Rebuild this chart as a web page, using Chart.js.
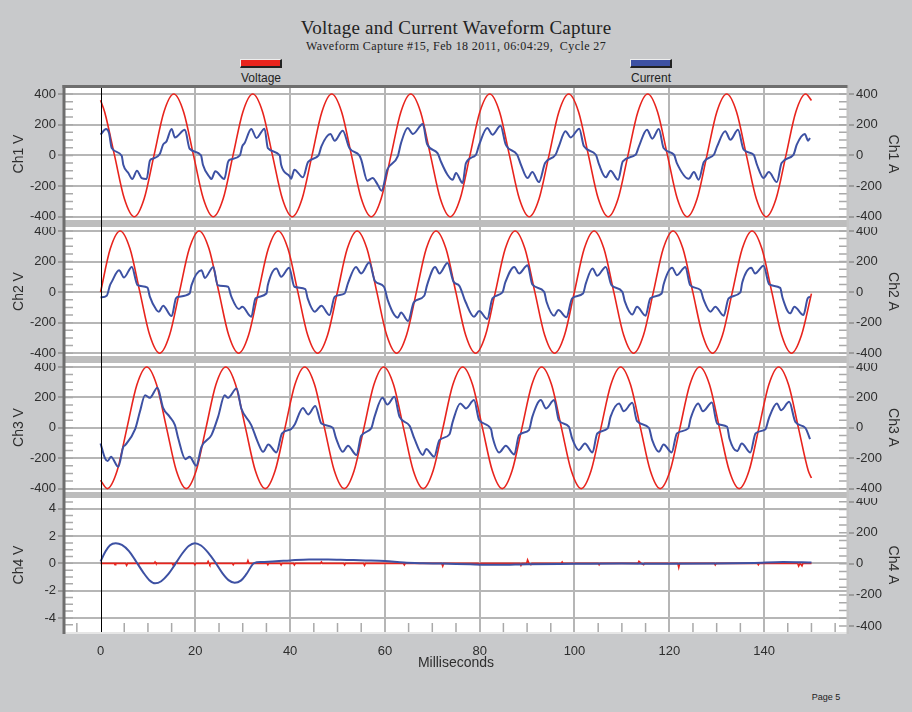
<!DOCTYPE html>
<html>
<head>
<meta charset="utf-8">
<script src="https://cdn.jsdelivr.net/npm/chart.js@4.4.1/dist/chart.umd.min.js"></script>
<style>
  html, body { margin: 0; padding: 0; }
  body { width: 912px; height: 712px; background: #c8c9cb; position: relative; overflow: hidden; font-family: 'Liberation Sans', Arial, sans-serif; }
  canvas { position: absolute; left: 0; }
  .title { position: absolute; left: 0; width: 912px; text-align: center; font-family: 'Liberation Serif', 'Times New Roman', serif; color: #222; white-space: pre; }
  .swatch { position: absolute; width: 39px; height: 6px; border-top: 1px solid #eee; border-left: 1px solid #eee; border-right: 2px solid #222; border-bottom: 2px solid #222; }
  .leg { position: absolute; width: 80px; text-align: center; font-size: 12px; line-height: 14px; color: #222; }
</style>
</head>
<body>
<div class="title" style="top:17px;font-size:19px;line-height:22px;letter-spacing:0.25px;">Voltage and Current Waveform Capture</div>
<div class="title" style="top:39px;font-size:12px;line-height:14px;letter-spacing:0.4px;">Waveform Capture #15, Feb 18 2011, 06:04:29,  Cycle 27</div>
<div class="swatch" style="left:240px;top:59px;background:#e8241d;"></div>
<div class="leg" style="left:221px;top:71px;">Voltage</div>
<div class="swatch" style="left:630px;top:59px;background:#3d51a3;"></div>
<div class="leg" style="left:611px;top:71px;">Current</div>
<div style="position:absolute;left:806px;top:692px;width:40px;text-align:center;font-size:9px;color:#222;">Page 5</div>

<canvas id="c1" width="912" height="142" style="top:85px"></canvas>
<canvas id="c2" width="912" height="136" style="top:227px"></canvas>
<canvas id="c3" width="912" height="135" style="top:363px"></canvas>
<canvas id="c4" width="912" height="182" style="top:498px"></canvas>

<script>
// axis ticks
const xTicks = [-5, 0, 5, 10, 15, 20, 25, 30, 35, 40, 45, 50, 55, 60, 65, 70, 75, 80, 85, 90, 95, 100, 105, 110, 115, 120, 125, 130, 135, 140, 145, 150, 155];
const xLabels = [0, 20, 40, 60, 80, 100, 120, 140];
const ampTicks = [-400, -350, -300, -250, -200, -150, -100, -50, 0, 50, 100, 150, 200, 250, 300, 350, 400];
const ampLabels = [-400, -200, 0, 200, 400];
const ch4VTicks = [-4.5, -4, -3.5, -3, -2.5, -2, -1.5, -1, -0.5, 0, 0.5, 1, 1.5, 2, 2.5, 3, 3.5, 4, 4.5];
const ch4VLabels = [-4, -2, 0, 2, 4];

// Ch1
const ch1VoltTime = [0, 0.87, 2.95, 5.03, 7.12, 9.20, 11.28, 13.37, 15.45, 17.53, 19.62, 21.70, 23.78, 25.87, 27.95, 30.03, 32.12, 34.20, 36.28, 38.37, 40.45, 42.53, 44.62, 46.70, 48.78, 50.87, 52.95, 55.03, 57.12, 59.20, 61.28, 63.37, 65.45, 67.53, 69.62, 71.70, 73.78, 75.87, 77.95, 80.03, 82.12, 84.20, 86.28, 88.37, 90.45, 92.53, 94.62, 96.70, 98.78, 100.87, 102.95, 105.03, 107.12, 109.20, 111.28, 113.37, 115.45, 117.53, 119.62, 121.70, 123.78, 125.87, 127.95, 130.03, 132.12, 134.20, 136.28, 138.37, 140.45, 142.53, 144.62, 146.70, 148.78, 150];
const ch1Volt = [359,
  283, 0, -283, -400, -283, 0, 283, 400,
  283, 0, -283, -400, -283, 0, 283, 400,
  283, 0, -283, -400, -283, 0, 283, 400,
  283, 0, -283, -400, -283, 0, 283, 400,
  283, 0, -283, -400, -283, 0, 283, 400,
  283, 0, -283, -400, -283, 0, 283, 400,
  283, 0, -283, -400, -283, 0, 283, 400,
  283, 0, -283, -400, -283, 0, 283, 400,
  283, 0, -283, -400, -283, 0, 283, 400,
  358];
const ch1AmpTime = [0, 1.16, 1.79, 2.35, 4.46, 4.8, 5.86, 6.7, 7.68, 8.67, 9.72, 10.4, 10.9, 12.5, 13.2, 13.9, 15.0, 15.7, 17.8, 18.8, 21.2, 21.6, 23.05, 23.4, 24.2, 26.1, 26.9, 27.3, 29.4, 29.9, 30.4, 31.8, 32.9, 34.6, 35.3, 37.8, 38.1, 39.9, 40.2, 40.9, 42.7, 43.8, 46.0, 46.6, 48.5, 49.4, 51.1, 52.5, 54.6, 55.0, 56.3, 57.4, 58.4, 59.3, 60.5, 62.7, 63.4, 64.8, 65.9, 68.0, 68.9, 71.1, 71.8, 73.2, 74.3, 75.0, 76.4, 77.1, 79.2, 79.9, 81.6, 82.7, 84.4, 85.5, 87.9, 88.7, 90.1, 91.1, 92.5, 93.8, 96.0, 96.7, 98.1, 99.2, 101.0, 102.0, 104.5, 105.2, 106.6, 107.6, 109.2, 110.2, 112.9, 113.6, 115.3, 116.4, 117.8, 118.8, 121.0, 121.6, 124.1, 125.2, 126.2, 127.3, 129.4, 130.1, 131.8, 132.9, 134.5, 135.7, 137.8, 138.5, 139.9, 141.0, 142.7, 143.7, 146.2, 146.9, 148.6, 149.3, 149.7];
const ch1Amp = [135, 172, 146, 48, -2, -61, -115, -154, -100, -148, -154, -35, -22, 9, 70, 91, 172, 117, 167, 43, 0, -61, -143, -154, -104, -154, -43, -28, 0, 59, 80, 172, 113, 174, 48, 0, -61, -137, -152, -93, -143, -43, 0, 59, 139, 96, 161, 48, 0, -28, -165, -148, -187, -230, -93, -7, 80, 178, 139, 204, 74, 15, -39, -126, -159, -115, -180, -50, 4, 70, 178, 135, 193, 70, 4, -61, -148, -109, -174, -50, 4, 59, 157, 117, 174, 59, 4, -61, -143, -100, -159, -39, 4, 59, 167, 109, 172, 48, 4, -50, -152, -109, -159, -43, 4, 59, 157, 102, 167, 37, 4, -61, -148, -109, -174, -50, 4, 70, 139, 96, 113];

// Ch2
const ch2VoltTime = [0, 2.05, 4.14, 6.22, 8.30, 10.39, 12.47, 14.55, 16.64, 18.72, 20.80, 22.89, 24.97, 27.05, 29.14, 31.22, 33.30, 35.39, 37.47, 39.55, 41.64, 43.72, 45.80, 47.89, 49.97, 52.05, 54.14, 56.22, 58.30, 60.39, 62.47, 64.55, 66.64, 68.72, 70.80, 72.89, 74.97, 77.05, 79.14, 81.22, 83.30, 85.39, 87.47, 89.55, 91.64, 93.72, 95.80, 97.89, 99.97, 102.05, 104.14, 106.22, 108.30, 110.39, 112.47, 114.55, 116.64, 118.72, 120.80, 122.89, 124.97, 127.05, 129.14, 131.22, 133.30, 135.39, 137.47, 139.55, 141.64, 143.72, 145.80, 147.89, 150];
const ch2Volt = [
  0, 283, 400, 283, 0, -283, -400, -283,
  0, 283, 400, 283, 0, -283, -400, -283,
  0, 283, 400, 283, 0, -283, -400, -283,
  0, 283, 400, 283, 0, -283, -400, -283,
  0, 283, 400, 283, 0, -283, -400, -283,
  0, 283, 400, 283, 0, -283, -400, -283,
  0, 283, 400, 283, 0, -283, -400, -283,
  0, 283, 400, 283, 0, -283, -400, -283,
  0, 283, 400, 283, 0, -283, -400, -283,
  -10];
const ch2AmpTime = [0, 1.3, 2.0, 2.35, 3.9, 4.95, 6.6, 7.8, 9.9, 10.4, 11.8, 12.3, 13.2, 15.0, 15.9, 16.4, 18.8, 19.2, 21.3, 22.0, 23.8, 24.7, 26.9, 27.6, 29.2, 29.9, 31.8, 32.7, 35.0, 35.3, 37.1, 38.1, 39.8, 40.9, 43.2, 43.7, 45.2, 46.6, 48.3, 49.4, 51.5, 52.2, 53.9, 55.0, 56.7, 57.9, 59.8, 60.6, 62.0, 62.7, 63.4, 64.9, 66.1, 68.3, 68.9, 70.6, 71.5, 73.2, 74.5, 75.7, 77.0, 78.8, 79.9, 81.6, 82.7, 84.8, 85.4, 87.3, 88.3, 90.1, 91.1, 93.6, 94.1, 95.7, 96.6, 98.3, 99.5, 101.8, 102.4, 103.8, 104.8, 106.6, 107.8, 110.1, 110.6, 112.2, 113.2, 115.0, 116.0, 118.4, 118.8, 120.6, 121.6, 123.4, 124.4, 126.6, 127.2, 128.7, 129.7, 131.5, 132.5, 135.0, 135.4, 137.3, 138.1, 139.9, 141.1, 143.4, 143.9, 145.5, 146.4, 148.3, 149.2, 149.7];
const ch2Amp = [-35, -24, 46, 67, 143, 96, 165, 46, 30, -30, -117, -128, -89, -157, -41, -30, -9, 46, 143, 93, 165, 46, 35, -30, -111, -96, -161, -41, -9, 46, 154, 100, 159, 35, 20, -41, -128, -89, -150, -30, -9, 57, 165, 122, 193, 72, 35, -52, -150, -167, -133, -189, -67, -24, 46, 165, 122, 191, 67, 41, -63, -161, -124, -176, -41, -2, 63, 165, 122, 176, 50, 2, -63, -154, -117, -165, -41, -9, 57, 154, 107, 165, 46, 2, -59, -146, -96, -154, -41, -9, 50, 159, 111, 165, 46, 13, -46, -128, -96, -154, -41, -2, 63, 159, 122, 172, 50, 28, -37, -139, -96, -150, -41, -30];

// Ch3
const ch3VoltTime = [0, 1.42, 3.50, 5.58, 7.67, 9.75, 11.83, 13.92, 16.00, 18.08, 20.17, 22.25, 24.33, 26.42, 28.50, 30.58, 32.67, 34.75, 36.83, 38.92, 41.00, 43.08, 45.17, 47.25, 49.33, 51.42, 53.50, 55.58, 57.67, 59.75, 61.83, 63.92, 66.00, 68.08, 70.17, 72.25, 74.33, 76.42, 78.50, 80.58, 82.67, 84.75, 86.83, 88.92, 91.00, 93.08, 95.17, 97.25, 99.33, 101.42, 103.50, 105.58, 107.67, 109.75, 111.83, 113.92, 116.00, 118.08, 120.17, 122.25, 124.33, 126.42, 128.50, 130.58, 132.67, 134.75, 136.83, 138.92, 141.00, 143.08, 145.17, 147.25, 149.33, 150];
const ch3Volt = [-344,
  -400, -283, 0, 283, 400, 283, 0, -283,
  -400, -283, 0, 283, 400, 283, 0, -283,
  -400, -283, 0, 283, 400, 283, 0, -283,
  -400, -283, 0, 283, 400, 283, 0, -283,
  -400, -283, 0, 283, 400, 283, 0, -283,
  -400, -283, 0, 283, 400, 283, 0, -283,
  -400, -283, 0, 283, 400, 283, 0, -283,
  -400, -283, 0, 283, 400, 283, 0, -283,
  -400, -283, 0, 283, 400, 283, 0, -283,
  -330];
const ch3AmpTime = [0, 0.95, 1.5, 2.2, 3.75, 4.8, 5.2, 7.3, 8.3, 9.4, 10.4, 12.0, 13.2, 14.6, 15.7, 16.4, 17.9, 18.8, 20.2, 21.3, 23.4, 24.8, 26.2, 26.9, 28.7, 29.7, 31.8, 33.2, 34.3, 35.4, 37.1, 38.3, 40.2, 40.9, 42.7, 43.8, 45.3, 46.6, 49.0, 49.7, 51.1, 52.2, 54.0, 55.0, 57.1, 57.8, 59.5, 60.5, 62.0, 63.1, 65.2, 66.2, 68.0, 68.7, 70.4, 71.5, 73.6, 74.3, 75.9, 77.1, 78.8, 79.9, 82.4, 82.7, 84.1, 85.5, 87.3, 88.3, 90.4, 91.1, 92.9, 94.0, 95.7, 96.7, 98.8, 99.5, 100.9, 102.2, 103.8, 104.8, 107.0, 107.6, 109.4, 110.4, 112.2, 113.2, 115.7, 116.4, 117.8, 118.8, 120.5, 121.6, 124.0, 124.5, 126.1, 127.1, 129.0, 130.1, 132.2, 132.7, 134.3, 135.3, 137.1, 138.2, 140.3, 141.0, 142.7, 143.6, 145.3, 146.6, 148.7, 149.7];
const ch3Amp = [-103, -201, -219, -190, -256, -125, -114, -9, 105, 214, 197, 263, 131, 72, 18, -70, -206, -190, -249, -125, -48, 72, 214, 197, 258, 127, 18, -96, -158, -109, -162, -37, -9, 18, 131, 88, 144, 28, 0, -70, -158, -118, -179, -53, -4, 72, 197, 153, 204, 72, 13, -70, -179, -140, -190, -81, -44, 39, 160, 127, 182, 50, -9, -59, -162, -118, -175, -48, -15, 72, 182, 127, 182, 50, 7, -70, -147, -103, -162, -37, -4, 72, 160, 109, 164, 44, 0, -81, -158, -109, -162, -37, -4, 61, 160, 109, 166, 28, 7, -70, -153, -103, -162, -37, -9, 61, 160, 116, 171, 39, 0, -74];

// Ch4
const ch4VoltTime = [0, 2.9, 3.05, 3.2, 5.3, 5.5, 5.7, 7.8, 8.0, 8.2, 11.3, 11.5, 11.7, 15.1, 15.3, 15.5, 15.8, 16.0, 16.2, 19.7, 19.9, 20.1, 22.5, 22.7, 22.9, 23.05, 23.3, 27.8, 28.0, 28.2, 30.9, 31.1, 31.3, 35.1, 35.3, 35.5, 37.9, 38.1, 38.3, 40.7, 40.9, 41.1, 46.4, 46.6, 46.8, 51.3, 51.5, 51.7, 55.5, 55.7, 55.9, 63.9, 64.1, 64.3, 72.0, 72.2, 72.4, 79.7, 79.9, 80.1, 88.5, 88.7, 88.9, 89.9, 90.1, 90.4, 90.8, 91.0, 97.2, 97.4, 97.6, 105.0, 105.2, 105.4, 113.4, 113.6, 114.1, 114.6, 114.8, 121.8, 122.0, 122.2, 129.5, 129.7, 129.9, 138.6, 138.8, 139.0, 147.1, 147.3, 147.6, 148.0, 148.2, 150];
const ch4Volt = [0, 0, -0.1, 0, 0, -0.15, 0, 0, -0.1, 0, 0, 0.1, 0, 0, -0.12, 0, 0, 0.1, 0, 0, -0.1, 0, 0, 0.15, 0, -0.1, 0, 0, -0.1, 0, 0, 0.2, 0, 0, -0.1, 0, 0, -0.12, 0, 0, -0.12, 0, 0, 0.1, 0, 0, -0.12, 0, 0, -0.15, 0, 0, -0.12, 0, 0, -0.2, 0, 0, -0.08, 0, 0, -0.15, 0, 0, 0.25, 0, -0.1, 0, 0, 0.1, 0, 0, -0.1, 0, 0, 0.15, 0, -0.1, 0, 0, -0.3, 0, 0, -0.12, 0, 0, -0.1, 0, 0, -0.2, 0, -0.18, 0, 0];
const ch4AmpTime = [0, 1.0, 2.0, 3.2, 4.5, 6.0, 7.5, 9.0, 10.3, 11.5, 12.8, 14.2, 15.7, 17.2, 18.6, 19.9, 21.2, 22.7, 24.2, 25.7, 27.0, 28.3, 29.6, 30.8, 32.4, 34.0, 37.0, 40.0, 44.0, 48.0, 52.0, 56.0, 60.0, 64.0, 68.0, 72.0, 78.0, 84.0, 90.0, 100.0, 110.0, 120.0, 130.0, 138.0, 144.0, 148.0, 150.0];
const ch4Amp = [15, 78, 120, 133, 122, 82, 15, -55, -105, -125, -112, -70, -5, 65, 115, 133, 118, 72, 10, -60, -105, -122, -108, -65, 5, 12, 16, 22, 28, 28, 25, 22, 18, 8, 4, 2, -3, -6, -2, 0, 2, 0, 2, 6, 12, 10, 8];

const red = '#e8241d';
const blue = '#3d51a3';
const gridCol = '#b6b6b6';
const txtCol = '#2e2e2e';
const tickFont = { family: 'Liberation Sans', size: 13 };
const clear = 'rgba(0,0,0,0)';

const pts = (xs, ys) => xs.map((x, i) => ({ x: x, y: ys[i] }));

const decor = {
  id: 'decor',
  beforeDraw(chart) {
    const { ctx, chartArea: a } = chart;
    ctx.save();
    ctx.fillStyle = '#ffffff';
    ctx.fillRect(a.left, a.top, a.right - a.left, a.bottom - a.top);
    ctx.restore();
  },
  afterDraw(chart, args, o) {
    const { ctx, chartArea: a, scales } = chart;
    const w = a.right - a.left;
    const band = o.band || 0;
    ctx.save();
    // short inside ticks
    ctx.strokeStyle = '#a9a9a9';
    ctx.lineWidth = 1.5;
    ctx.beginPath();
    scales.y.ticks.forEach(t => {
      const y = scales.y.getPixelForValue(t.value);
      ctx.moveTo(a.left, y); ctx.lineTo(a.left + 8, y);
    });
    scales.y2.ticks.forEach(t => {
      const y = scales.y2.getPixelForValue(t.value);
      ctx.moveTo(a.right - 8, y); ctx.lineTo(a.right, y);
    });
    if (o.xticks) {
      scales.x.ticks.forEach(t => {
        if (t.value % 20 !== 0) {
          const x = scales.x.getPixelForValue(t.value);
          ctx.moveTo(x, a.bottom - 9); ctx.lineTo(x, a.bottom);
        }
      });
    }
    ctx.stroke();
    let bottom = a.bottom + band;
    if (band) {
      ctx.fillStyle = '#bdbdbd';
      ctx.fillRect(a.left, a.bottom, w, band);
    }
    // zero-time line over everything
    const x0 = Math.round(scales.x.getPixelForValue(0)) + 0.5;
    ctx.strokeStyle = '#000';
    ctx.lineWidth = 1;
    ctx.beginPath(); ctx.moveTo(x0, a.top); ctx.lineTo(x0, bottom); ctx.stroke();
    if (o.xticks) {
      ctx.fillStyle = '#e6e6e6';
      ctx.fillRect(a.left, a.bottom, w + 2, 2);
      bottom += 2;
    }
    const top = o.topBorder ? a.top - 3 : a.top;
    ctx.fillStyle = '#c4c4c4';
    ctx.fillRect(a.right - 0.5, top, 2.5, bottom - top);
    ctx.fillStyle = '#6e6e6e';
    ctx.fillRect(a.left - 2.5, top, 3, bottom - top);
    if (o.topBorder) ctx.fillRect(a.left - 2.5, top, w + 3, 3);
    ctx.restore();
  }
};

function makePanel(p) {
  const last = !!p.last;
  return new Chart(document.getElementById(p.id), {
    type: 'line',
    data: {
      datasets: [
        { label: 'Current', data: pts(p.aTime, p.a), yAxisID: 'y2', borderColor: blue, borderWidth: 2, pointRadius: 0, cubicInterpolationMode: 'monotone' },
        { label: 'Voltage', data: pts(p.vTime, p.v), yAxisID: 'y', borderColor: red, borderWidth: 1.6, pointRadius: 0,
          cubicInterpolationMode: p.vSharp ? 'default' : 'monotone', tension: 0 }
      ]
    },
    options: {
      responsive: false,
      animation: false,
      devicePixelRatio: 1,
      layout: { autoPadding: false, padding: { top: p.padTop || 0, bottom: p.band || 0, left: 0, right: 0 } },
      plugins: {
        legend: { display: false },
        tooltip: { enabled: false },
        decor: { band: p.band || 0, topBorder: !!p.padTop, xticks: last }
      },
      scales: {
        x: {
          type: 'linear', min: -7.5, max: 157.5,
          afterBuildTicks: s => { s.ticks = xTicks.map(v => ({ value: v })); },
          afterFit: s => { s.height = last ? 48 : 0; s.paddingLeft = 0; s.paddingRight = 0; },
          ticks: { display: last, autoSkip: false, maxRotation: 0, padding: 12, color: txtCol, font: tickFont,
            callback: v => xLabels.includes(v) ? String(v) : '' },
          grid: {
            drawTicks: false, lineWidth: 2,
            color: c => (c.tick && c.tick.value !== 0 && c.tick.value % 20 === 0) ? gridCol : clear
          },
          border: { display: false },
          title: { display: last, text: 'Milliseconds', color: txtCol, font: { family: 'Liberation Sans', size: 14 }, padding: { top: 0, bottom: 8 } }
        },
        y: {
          position: 'left', min: p.vMin, max: p.vMax,
          afterBuildTicks: s => { s.ticks = p.vTicks.map(v => ({ value: v })); },
          afterFit: s => { s.width = 65; s.paddingTop = 0; s.paddingBottom = 0; },
          ticks: { autoSkip: false, padding: 2, color: txtCol, font: tickFont,
            callback: v => p.vLabels.includes(v) ? String(v) : '' },
          grid: {
            tickLength: 7, lineWidth: 2,
            color: c => (c.tick && p.vLabels.includes(c.tick.value)) ? gridCol : clear,
            tickColor: c => (c.tick && p.vLabels.includes(c.tick.value)) ? '#9c9c9c' : clear
          },
          border: { display: false },
          title: { display: true, text: p.vTitle, color: txtCol, font: { family: 'Liberation Sans', size: 14 }, padding: { top: 11, bottom: 0 } }
        },
        y2: {
          position: 'right', min: p.aMin, max: p.aMax,
          afterBuildTicks: s => { s.ticks = ampTicks.map(v => ({ value: v })); },
          afterFit: s => { s.width = 65; s.paddingTop = 0; s.paddingBottom = 0; },
          ticks: { autoSkip: false, padding: 2, color: txtCol, font: tickFont,
            callback: v => ampLabels.includes(v) ? String(v) : '' },
          grid: {
            drawOnChartArea: false, tickLength: 7, lineWidth: 2,
            tickColor: c => (c.tick && ampLabels.includes(c.tick.value)) ? '#9c9c9c' : clear
          },
          border: { display: false },
          title: { display: true, text: p.aTitle, color: txtCol, font: { family: 'Liberation Sans', size: 14 }, padding: { top: 11, bottom: 0 } }
        }
      }
    },
    plugins: [decor]
  });
}

makePanel({ id: 'c1', vTitle: 'Ch1 V', aTitle: 'Ch1 A', vTime: ch1VoltTime, v: ch1Volt, aTime: ch1AmpTime, a: ch1Amp,
  vMin: -421, vMax: 439, aMin: -421, aMax: 439, vTicks: ampTicks, vLabels: ampLabels, padTop: 3, band: 7 });
makePanel({ id: 'c2', vTitle: 'Ch2 V', aTitle: 'Ch2 A', vTime: ch2VoltTime, v: ch2Volt, aTime: ch2AmpTime, a: ch2Amp,
  vMin: -418, vMax: 426, aMin: -418, aMax: 426, vTicks: ampTicks, vLabels: ampLabels, band: 7 });
makePanel({ id: 'c3', vTitle: 'Ch3 V', aTitle: 'Ch3 A', vTime: ch3VoltTime, v: ch3Volt, aTime: ch3AmpTime, a: ch3Amp,
  vMin: -422, vMax: 426, aMin: -422, aMax: 426, vTicks: ampTicks, vLabels: ampLabels, band: 6 });
makePanel({ id: 'c4', vTitle: 'Ch4 V', aTitle: 'Ch4 A', vTime: ch4VoltTime, v: ch4Volt, aTime: ch4AmpTime, a: ch4Amp,
  vMin: -5.03, vMax: 4.79, aMin: -439, aMax: 424, vTicks: ch4VTicks, vLabels: ch4VLabels, vSharp: true, last: true });
</script>
</body>
</html>
